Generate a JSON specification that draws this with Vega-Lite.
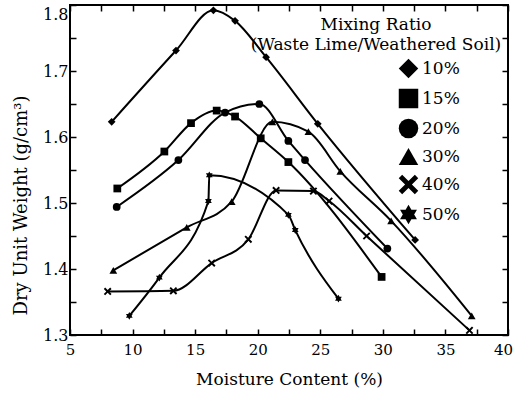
{
  "$schema": "https://vega.github.io/schema/vega-lite/v6.json",
  "width": 438,
  "height": 330,
  "autosize": "none",
  "padding": {"left": 70, "top": 5, "right": 6, "bottom": 60},
  "background": "white",
  "config": {
    "font": "DejaVu Serif",
    "view": {"stroke": "black", "strokeWidth": 2}
  },
  "data": {
    "values": [
      {"ratio": "10%", "seq": 1, "moisture": 8.33, "weight": 1.623},
      {"ratio": "10%", "seq": 2, "moisture": 13.47, "weight": 1.731},
      {"ratio": "10%", "seq": 3, "moisture": 16.46, "weight": 1.792},
      {"ratio": "10%", "seq": 4, "moisture": 18.19, "weight": 1.776},
      {"ratio": "10%", "seq": 5, "moisture": 20.67, "weight": 1.721},
      {"ratio": "10%", "seq": 6, "moisture": 24.8, "weight": 1.62},
      {"ratio": "10%", "seq": 7, "moisture": 32.58, "weight": 1.444},
      {"ratio": "15%", "seq": 1, "moisture": 8.78, "weight": 1.522},
      {"ratio": "15%", "seq": 2, "moisture": 12.54, "weight": 1.578},
      {"ratio": "15%", "seq": 3, "moisture": 14.67, "weight": 1.621},
      {"ratio": "15%", "seq": 4, "moisture": 16.72, "weight": 1.64},
      {"ratio": "15%", "seq": 5, "moisture": 18.19, "weight": 1.631},
      {"ratio": "15%", "seq": 6, "moisture": 20.24, "weight": 1.598},
      {"ratio": "15%", "seq": 7, "moisture": 22.45, "weight": 1.562},
      {"ratio": "15%", "seq": 8, "moisture": 29.9, "weight": 1.388},
      {"ratio": "20%", "seq": 1, "moisture": 8.73, "weight": 1.494},
      {"ratio": "20%", "seq": 2, "moisture": 13.66, "weight": 1.565},
      {"ratio": "20%", "seq": 3, "moisture": 17.39, "weight": 1.637},
      {"ratio": "20%", "seq": 4, "moisture": 20.13, "weight": 1.65},
      {"ratio": "20%", "seq": 5, "moisture": 22.45, "weight": 1.594},
      {"ratio": "20%", "seq": 6, "moisture": 23.78, "weight": 1.565},
      {"ratio": "20%", "seq": 7, "moisture": 30.36, "weight": 1.431},
      {"ratio": "30%", "seq": 1, "moisture": 8.46, "weight": 1.398},
      {"ratio": "30%", "seq": 2, "moisture": 14.33, "weight": 1.463},
      {"ratio": "30%", "seq": 3, "moisture": 17.92, "weight": 1.502},
      {"ratio": "30%", "seq": 4, "moisture": 21.17, "weight": 1.623},
      {"ratio": "30%", "seq": 5, "moisture": 24.05, "weight": 1.608},
      {"ratio": "30%", "seq": 6, "moisture": 26.6, "weight": 1.548},
      {"ratio": "30%", "seq": 7, "moisture": 30.66, "weight": 1.473},
      {"ratio": "30%", "seq": 8, "moisture": 37.1, "weight": 1.329},
      {"ratio": "40%", "seq": 1, "moisture": 8.01, "weight": 1.366},
      {"ratio": "40%", "seq": 2, "moisture": 13.26, "weight": 1.367},
      {"ratio": "40%", "seq": 3, "moisture": 16.32, "weight": 1.409},
      {"ratio": "40%", "seq": 4, "moisture": 19.25, "weight": 1.445},
      {"ratio": "40%", "seq": 5, "moisture": 21.47, "weight": 1.519},
      {"ratio": "40%", "seq": 6, "moisture": 24.45, "weight": 1.518},
      {"ratio": "40%", "seq": 7, "moisture": 25.7, "weight": 1.503},
      {"ratio": "40%", "seq": 8, "moisture": 28.7, "weight": 1.45},
      {"ratio": "40%", "seq": 9, "moisture": 36.92, "weight": 1.307},
      {"ratio": "50%", "seq": 1, "moisture": 9.74, "weight": 1.329},
      {"ratio": "50%", "seq": 2, "moisture": 12.14, "weight": 1.387},
      {"ratio": "50%", "seq": 3, "moisture": 16.06, "weight": 1.503},
      {"ratio": "50%", "seq": 4, "moisture": 16.13, "weight": 1.542},
      {"ratio": "50%", "seq": 5, "moisture": 22.45, "weight": 1.482},
      {"ratio": "50%", "seq": 6, "moisture": 23.0, "weight": 1.459},
      {"ratio": "50%", "seq": 7, "moisture": 26.45, "weight": 1.355}
    ]
  },
  "resolve": {"axis": {"x": "independent", "y": "independent"}},
  "layer": [
    {
      "mark": {"type": "line", "interpolate": "monotone", "color": "black", "strokeWidth": 2},
      "encoding": {
        "x": {
          "field": "moisture", "type": "quantitative",
          "scale": {"domain": [5, 40], "nice": false, "zero": false},
          "axis": {
            "orient": "bottom",
            "values": [5, 7.5, 10, 12.5, 15, 17.5, 20, 22.5, 25, 27.5, 30, 32.5, 35, 37.5, 40],
            "labelExpr": "datum.value % 5 === 0 ? datum.label : ''",
            "tickSize": -6, "tickColor": "black", "tickWidth": 1.5,
            "domain": false, "grid": false,
            "labelFont": "DejaVu Serif", "labelFontSize": 15, "labelColor": "black",
            "labelPadding": 13, "labelFlush": false, "labelOverlap": false,
            "labelOffset": {"condition": {"test": "datum.value > 39", "value": -5}, "value": 0},
            "title": "Moisture Content (%)",
            "titleFont": "DejaVu Serif", "titleFontSize": 17, "titleFontWeight": "normal",
            "titleColor": "black", "titlePadding": 14,
            "encode": {"ticks": {"update": {"y2": {"signal": "datum.value % 5 === 0 ? -8 : -4"}}}}
          }
        },
        "y": {
          "field": "weight", "type": "quantitative",
          "scale": {"domain": [1.3, 1.8], "nice": false, "zero": false},
          "axis": {
            "orient": "left",
            "values": [1.3, 1.35, 1.4, 1.45, 1.5, 1.55, 1.6, 1.65, 1.7, 1.75, 1.8],
            "labelExpr": "abs(datum.value * 10 - round(datum.value * 10)) < 0.001 ? format(datum.value, '.1f') : ''",
            "tickSize": -6, "tickColor": "black", "tickWidth": 1.5,
            "domain": false, "grid": false,
            "labelFont": "DejaVu Serif", "labelFontSize": 16, "labelColor": "black",
            "labelPadding": 8, "labelFlush": false, "labelOverlap": false,
            "labelOffset": {"condition": {"test": "datum.value > 1.79", "value": 9}, "value": 0},
            "title": "Dry Unit Weight (g/cm³)",
            "titleFont": "DejaVu Serif", "titleFontSize": 18, "titleFontWeight": "normal",
            "titleColor": "black", "titlePadding": 12, "titleY": 200,
            "encode": {
              "ticks": {"update": {"x2": {"signal": "abs(datum.value * 10 - round(datum.value * 10)) < 0.001 ? 8 : 4"}}}
            }
          }
        },
        "detail": {"field": "ratio"},
        "order": {"field": "seq", "type": "quantitative"}
      }
    },
    {
      "mark": {"type": "point", "filled": true, "color": "black", "opacity": 1, "size": 60},
      "encoding": {
        "x": {"field": "moisture", "type": "quantitative", "axis": null},
        "y": {"field": "weight", "type": "quantitative", "axis": null},
        "shape": {
          "field": "ratio", "type": "nominal",
          "scale": {
            "domain": ["10%", "15%", "20%", "30%", "40%", "50%"],
            "range": [
              "diamond", "square", "circle", "triangle-up",
              "M-1,-0.65L-0.65,-1L0,-0.35L0.65,-1L1,-0.65L0.35,0L1,0.65L0.65,1L0,0.35L-0.65,1L-1,0.65L-0.35,0Z",
              "M0,-1L0.866,0.5L-0.866,0.5ZM0,1L-0.866,-0.5L0.866,-0.5Z"
            ]
          },
          "legend": {
            "orient": "none", "legendX": 181, "legendY": 12,
            "title": ["Mixing Ratio", "(Waste Lime/Weathered Soil)"],
            "titleFont": "DejaVu Serif", "titleFontSize": 17, "titleFontWeight": "normal",
            "titleColor": "black", "titleAlign": "center", "titleAnchor": "middle",
            "titleLineHeight": 20, "titleLimit": 400, "titlePadding": 4,
            "symbolSize": 380, "symbolFillColor": "black", "symbolStrokeColor": "black",
            "symbolOffset": 105,
            "labelFont": "DejaVu Serif", "labelFontSize": 17, "labelColor": "black",
            "labelOffset": 3, "rowPadding": 3, "padding": 0
          }
        }
      }
    },
    {
      "mark": {"type": "point", "opacity": 0},
      "encoding": {
        "x": {
          "field": "moisture", "type": "quantitative",
          "axis": {
            "orient": "top", "title": null, "labels": false, "domain": false, "grid": false,
            "values": [5, 7.5, 10, 12.5, 15, 17.5, 20, 22.5, 25, 27.5, 30, 32.5, 35, 37.5, 40],
            "tickSize": -6, "tickColor": "black", "tickWidth": 1.5,
            "encode": {"ticks": {"update": {"y2": {"signal": "datum.value % 5 === 0 ? 9 : 5"}}}}
          }
        },
        "y": {
          "field": "weight", "type": "quantitative",
          "axis": {
            "orient": "right", "title": null, "labels": false, "domain": false, "grid": false,
            "values": [1.3, 1.35, 1.4, 1.45, 1.5, 1.55, 1.6, 1.65, 1.7, 1.75, 1.8],
            "tickSize": -6, "tickColor": "black", "tickWidth": 1.5,
            "encode": {"ticks": {"update": {"x2": {"signal": "abs(datum.value * 10 - round(datum.value * 10)) < 0.001 ? -8 : -4"}}}}
          }
        }
      }
    }
  ]
}
